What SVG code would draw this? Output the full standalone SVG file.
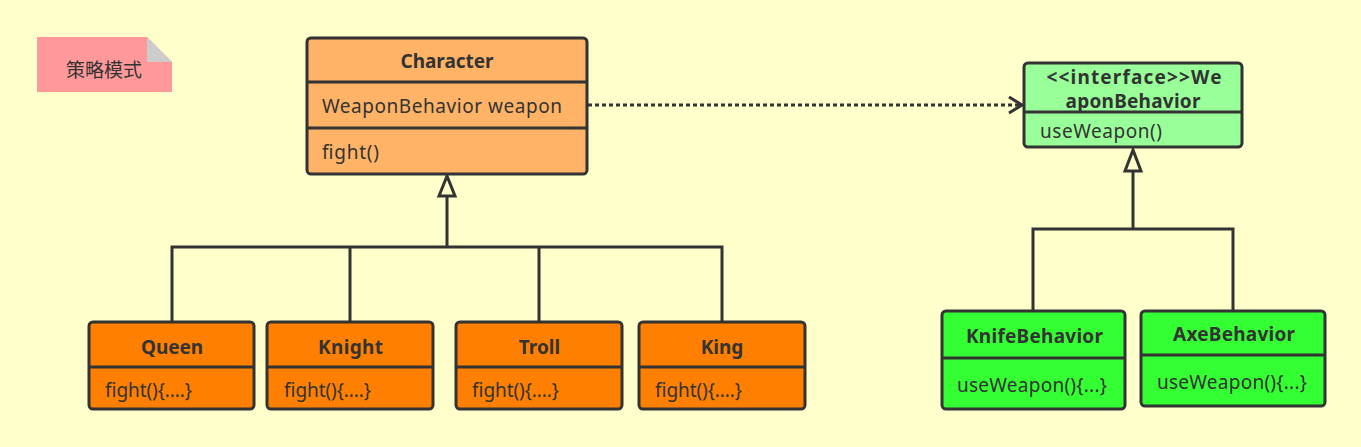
<svg xmlns="http://www.w3.org/2000/svg" width="1361" height="447" viewBox="0 0 1361 447">
<style>
text{font-family:"Noto Sans","Noto Sans CJK SC",sans-serif;fill:#333;font-size:19px}
.t{font-weight:bold;text-anchor:middle}
.box{stroke:#333;stroke-width:3}
.div{stroke:#333;stroke-width:3}
.c{stroke:#333;stroke-width:3;fill:none}
</style>
<rect width="1361" height="447" fill="#FFFFCC"/>
<g id="note">
<polygon points="37,37 147,37 172,62 172,92 37,92" fill="#FF9999"/>
<polygon points="147,37 172,62 147,62" fill="#CCCCCC"/>
<text x="104" y="77" text-anchor="middle" font-size="20" style="font-family:'Noto Sans CJK SC',sans-serif">策略模式</text>
</g>
<g id="connectors">
<line class="c" x1="588" y1="105" x2="1021" y2="105" stroke-dasharray="4 3"/>
<polyline class="c" points="1009,97 1022,105 1009,113"/>
<line class="c" x1="447" y1="196" x2="447" y2="247"/>
<polygon class="c" points="447,176 439,196 455,196" fill="#fff"/>
<polyline class="c" points="172,322 172,247 722,247 722,322"/>
<line class="c" x1="350" y1="247" x2="350" y2="322"/>
<line class="c" x1="539" y1="247" x2="539" y2="322"/>
<line class="c" x1="1133" y1="171" x2="1133" y2="229"/>
<polygon class="c" points="1133,150 1125,171 1141,171" fill="#fff"/>
<polyline class="c" points="1033,310 1033,229 1233,229 1233,310"/>
</g>
<g id="character">
<rect class="box" x="307" y="38" width="280" height="136" rx="4" fill="#FFB366"/>
<line class="div" x1="307" y1="82" x2="587" y2="82"/>
<line class="div" x1="307" y1="128" x2="587" y2="128"/>
<text class="t" x="447" y="68" textLength="93" lengthAdjust="spacing">Character</text>
<text x="322" y="113" textLength="240" lengthAdjust="spacing">WeaponBehavior weapon</text>
<text x="322" y="159" textLength="57" lengthAdjust="spacing">fight()</text>
</g>
<g id="weaponBehavior">
<rect class="box" x="1024" y="63" width="218" height="84" rx="4" fill="#99FF99"/>
<line class="div" x1="1024" y1="112" x2="1242" y2="112"/>
<text class="t" x="1134" y="84" textLength="175" lengthAdjust="spacing">&lt;&lt;interface&gt;&gt;We</text>
<text class="t" x="1133" y="108" textLength="135" lengthAdjust="spacing">aponBehavior</text>
<text x="1040" y="138" textLength="122" lengthAdjust="spacing">useWeapon()</text>
</g>
<g id="queen">
<rect class="box" x="89" y="322" width="165" height="87" rx="4" fill="#FF8000"/>
<line class="div" x1="89" y1="367" x2="254" y2="367"/>
<text class="t" x="172" y="354" textLength="62" lengthAdjust="spacing">Queen</text>
<text x="105" y="397" textLength="87" lengthAdjust="spacing">fight(){....}</text>
</g>
<g id="knight">
<rect class="box" x="267" y="322" width="166" height="87" rx="4" fill="#FF8000"/>
<line class="div" x1="267" y1="367" x2="433" y2="367"/>
<text class="t" x="350.5" y="354" textLength="65" lengthAdjust="spacing">Knight</text>
<text x="284" y="397" textLength="87" lengthAdjust="spacing">fight(){....}</text>
</g>
<g id="troll">
<rect class="box" x="456" y="322" width="166" height="87" rx="4" fill="#FF8000"/>
<line class="div" x1="456" y1="367" x2="622" y2="367"/>
<text class="t" x="539.5" y="354">Troll</text>
<text x="472" y="397" textLength="87" lengthAdjust="spacing">fight(){....}</text>
</g>
<g id="king">
<rect class="box" x="639" y="322" width="166" height="87" rx="4" fill="#FF8000"/>
<line class="div" x1="639" y1="367" x2="805" y2="367"/>
<text class="t" x="722" y="354">King</text>
<text x="655" y="397" textLength="87" lengthAdjust="spacing">fight(){....}</text>
</g>
<g id="knifeBehavior">
<rect class="box" x="942" y="311" width="183" height="98" rx="4" fill="#33FF33"/>
<line class="div" x1="942" y1="358" x2="1125" y2="358"/>
<text class="t" x="1034.5" y="343" textLength="137" lengthAdjust="spacing">KnifeBehavior</text>
<text x="957" y="392" textLength="150" lengthAdjust="spacing">useWeapon(){...}</text>
</g>
<g id="axeBehavior">
<rect class="box" x="1141" y="311" width="184" height="95" rx="4" fill="#33FF33"/>
<line class="div" x1="1141" y1="355" x2="1325" y2="355"/>
<text class="t" x="1234" y="341" textLength="122" lengthAdjust="spacing">AxeBehavior</text>
<text x="1157" y="389" textLength="150" lengthAdjust="spacing">useWeapon(){...}</text>
</g>
</svg>
